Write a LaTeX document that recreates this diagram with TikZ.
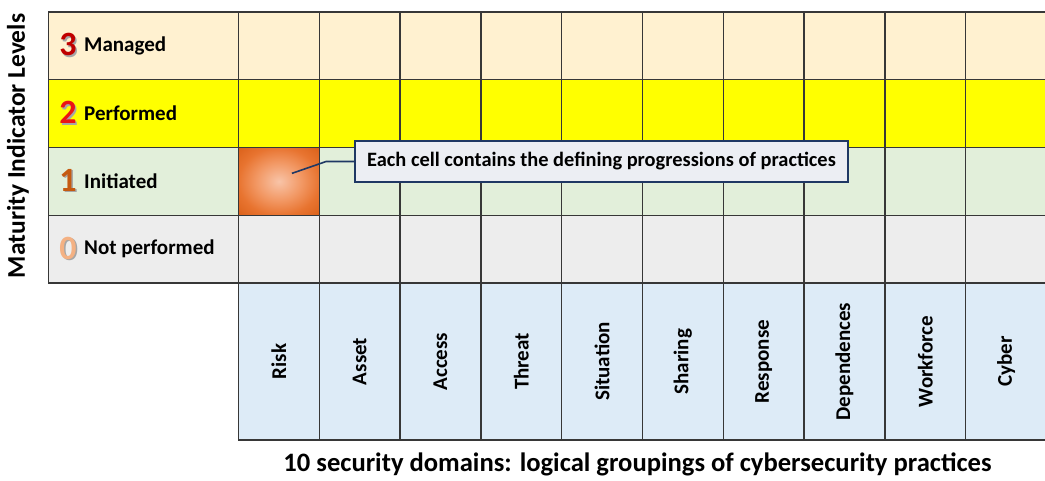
\documentclass[tikz,border=0pt]{standalone}
\usepackage{fontspec}
\setmainfont{Carlito}
\usetikzlibrary{calc}

\definecolor{gridline}{RGB}{55,55,55}
\definecolor{mgd}{RGB}{255,241,208}
\definecolor{perf}{RGB}{255,255,0}
\definecolor{init}{RGB}{226,239,218}
\definecolor{notp}{RGB}{237,237,237}
\definecolor{dom}{RGB}{221,235,247}
\definecolor{navy}{RGB}{31,56,100}
\definecolor{calloutfill}{RGB}{236,238,243}
\definecolor{numthree}{RGB}{192,0,0}
\definecolor{numtwo}{RGB}{235,20,20}
\definecolor{numone}{RGB}{197,90,17}
\definecolor{numzero}{RGB}{244,177,131}
\definecolor{glowin}{RGB}{248,196,168}
\definecolor{glowmid}{RGB}{242,152,100}
\definecolor{glowout}{RGB}{232,116,48}
\definecolor{glowedge}{RGB}{218,96,24}

% soft orange glow for the highlighted cell
\pgfdeclareradialshading{orangeglow}{\pgfpoint{0bp}{0bp}}{%
  color(0bp)=(glowin); color(14bp)=(glowmid); color(25bp)=(glowout);
  color(36bp)=(glowedge); color(50bp)=(glowedge)}

\begin{document}
\begin{tikzpicture}[x=1pt,y=-1pt,
  cell/.style={draw=gridline, line width=1.4pt, anchor=north west,
    minimum width=80.8pt, minimum height=67.75pt, inner sep=0pt, outer sep=0pt},
  lvlcell/.style={cell, minimum width=190pt},
  domcell/.style={cell, minimum height=157pt, fill=dom},
  lbltext/.style={anchor=west, inner sep=0pt, font=\fontsize{21}{25}\selectfont\bfseries},
  digit/.style={inner sep=0pt, font=\fontsize{34}{34}\selectfont\bfseries},
  domtext/.style={rotate=90, inner sep=0pt, font=\fontsize{21}{25}\selectfont\bfseries},
  conn/.style={draw=navy, line width=1.6pt},
]
\useasboundingbox (0,0) rectangle (1045,480);

% level rows: label cell plus ten domain cells each
\foreach \lvl/\fillc/\ytop in {3/mgd/12, 2/perf/79.75, 1/init/147.5, 0/notp/215.25}{
  \node[lvlcell, fill=\fillc] (lvl\lvl) at (48.5,\ytop) {};
  \foreach \c in {0,...,9}
    \node[cell, fill=\fillc] (c\lvl-\c) at ({238.5+\c*80.8},\ytop) {};
}

% highlighted cell (Risk, level 1)
\node[cell, shading=orangeglow] (risk1) at (238.5,147.5) {};

% domain columns
\foreach \name [count=\i from 0] in {Risk,Asset,Access,Threat,Situation,Sharing,Response,Dependences,Workforce,Cyber}{
  \node[domcell] (dom\i) at ({238.5+\i*80.8},283) {};
  \node[domtext] (domlbl\i) at (dom\i.center) {\name};
}

% level numbers with a soft shadow, then level names
\foreach \lvl/\numc/\name in {3/numthree/Managed, 2/numtwo/Performed, 1/numone/Initiated, 0/numzero/Not performed}{
  \node[digit, text=black!35] (d\lvl s) at ($(lvl\lvl.west)+(21,0.4)$) {\lvl};
  \node[digit, text=\numc] (d\lvl) at ($(lvl\lvl.west)+(19.5,-1)$) {\lvl};
  \node[lbltext] (n\lvl) at ($(lvl\lvl.west)+(35.5,0)$) {\name};
}

% callout
\node[draw=navy, line width=1.8pt, fill=calloutfill, minimum width=493pt,
      minimum height=41pt, inner sep=0pt,
      font=\fontsize{20.4}{24}\selectfont\bfseries] (callout) at (601.5,161.5)
      {Each cell contains the defining progressions of practices};
\coordinate (tip) at ($(risk1.center)+(13,-8)$);
\draw[conn] (tip) -- ($(callout.west)+(-28,0)$) -- (callout.west);

% axis titles
\node[rotate=90, inner sep=0pt, font=\fontsize{25.5}{30}\selectfont\bfseries]
  (ytitle) at (18,146) {Maturity Indicator Levels};
\node[inner sep=0pt, font=\fontsize{26.6}{30}\selectfont\bfseries]
  (xtitle) at (637.5,464) {10 security domains: logical groupings of cybersecurity practices};
\end{tikzpicture}
\end{document}
